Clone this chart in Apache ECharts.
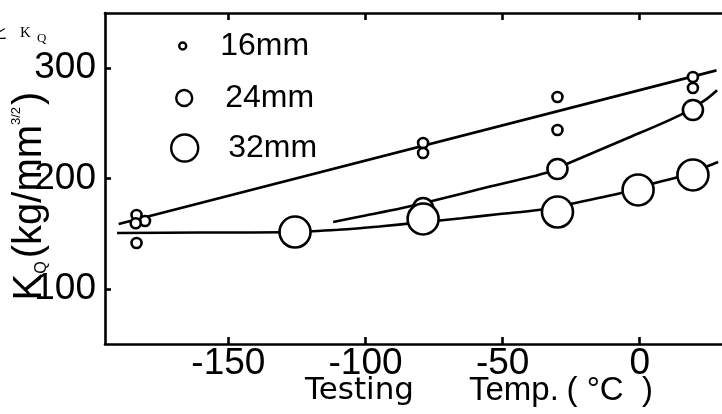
<!DOCTYPE html>
<html>
<head>
<meta charset="utf-8">
<script src="https://cdn.jsdelivr.net/npm/echarts@6/dist/echarts.min.js"></script>
<style>
html,body{margin:0;padding:0;background:#fff;}
#chart{width:722px;height:414px;}
</style>
</head>
<body>
<div id="chart"></div>
<script>
// ---- data ----
const xTicks = [-150, -100, -50, 0];
const yTicks = [100, 200, 300];

const temp16 = [-183.5, -180.4, -183.8, -183.5, -79, -79, -30, -30, 19.4, 19.4];
const kq16   = [166.9, 161.5, 159.5, 141.5, 232.2, 223.1, 273.9, 244.0, 292.0, 282.0];

const temp24 = [-79, -30, 19.4];
const kq24   = [173.3, 208.6, 262.1];

const temp32 = [-125.7, -79, -30, -0.6, 19.4];
const kq32   = [151.5, 163.3, 169.6, 189.6, 203.2];

const fit16T = [-190, 28];
const fit16K = [158.8, 298];

const fit24T = [-111.8, -100, -87, -75, -55, -34, -26, -5, 14.7, 23.8, 28.2];
const fit24K = [160.6, 166.5, 173, 180, 192.5, 205.3, 213.8, 236, 257.5, 271, 280];

const fit32T = [-190.6, -160, -125.7, -110, -95, -79, -65, -51, -37, -25, -6.5, 5.6, 14, 25.6, 28.6];
const fit32K = [150.6, 151, 151.5, 153.5, 156.5, 160.5, 164, 167.8, 171.4, 177, 187, 196, 201.4, 212, 215];

const seriesNames = ['16mm', '24mm', '32mm'];

// ---- build ----
const pair = (xs, ys) => xs.map((x, i) => [x, ys[i]]);
const FONT = '"Liberation Sans", Arial, sans-serif';

const chart = echarts.init(document.getElementById('chart'), null, {renderer: 'canvas'});

const lineStyle = {color: '#000', width: 2.6, opacity: 1};
const circleStyle = {color: '#fff', borderColor: '#000', borderWidth: 2.6, opacity: 1};

function fitSeries(name, xs, ys) {
  return {
    name: name, type: 'line', data: pair(xs, ys), smooth: 0.3,
    showSymbol: false, symbol: 'none', lineStyle: lineStyle, z: 2,
    silent: true, emphasis: {disabled: true}
  };
}
function dotSeries(name, xs, ys, size) {
  return {
    name: name, type: 'scatter', data: pair(xs, ys), symbol: 'circle',
    symbolSize: size, itemStyle: circleStyle, z: 5,
    emphasis: {disabled: true}
  };
}

function legendFor(name, left, top, size, pad) {
  return {
    data: [name], left: left, top: top, padding: 0,
    orient: 'vertical', icon: 'circle', itemWidth: size, itemHeight: size,
    itemStyle: {color: '#fff', borderColor: '#000', borderWidth: 2.4, opacity: 1},
    textStyle: {fontSize: 32, fontFamily: FONT, color: '#000', lineHeight: 34, padding: [0, 0, 0, pad]},
    selectedMode: false
  };
}

const axisLine = {show: true, onZero: false, lineStyle: {color: '#000', width: 2.6}};

const option = {
  backgroundColor: '#fff',
  animation: false,
  grid: {left: 105, right: 0, top: 13, bottom: 70, containLabel: false},
  legend: [
    legendFor(seriesNames[0], 178, 29, 7, 29),
    legendFor(seriesNames[1], 175, 81, 16, 28),
    legendFor(seriesNames[2], 170, 131, 27, 25)
  ],
  xAxis: [
    {
      type: 'value', position: 'bottom', min: -195, max: 30,
      axisLine: axisLine,
      axisTick: {show: true, inside: true, length: 7, customValues: xTicks, lineStyle: {color: '#000', width: 2.6}},
      axisLabel: {show: true, customValues: xTicks, fontSize: 37, fontFamily: FONT, color: '#000', margin: 1},
      splitLine: {show: false}
    },
    {
      type: 'value', position: 'top', min: -195, max: 30,
      axisLine: axisLine,
      axisTick: {show: true, inside: true, length: 7, customValues: xTicks, lineStyle: {color: '#000', width: 2.6}},
      axisLabel: {show: false},
      splitLine: {show: false}
    }
  ],
  yAxis: {
    type: 'value', min: 50, max: 350, position: 'left',
    axisLine: axisLine,
    axisTick: {show: true, inside: true, length: 6, customValues: yTicks, lineStyle: {color: '#000', width: 2.6}},
    axisLabel: {show: true, customValues: yTicks, fontSize: 37, fontFamily: FONT, color: '#000', margin: 9},
    splitLine: {show: false}
  },
  series: [
    fitSeries('fit16', fit16T, fit16K),
    fitSeries('fit24', fit24T, fit24K),
    fitSeries('fit32', fit32T, fit32K),
    dotSeries(seriesNames[0], temp16, kq16, 10),
    dotSeries(seriesNames[1], temp24, kq24, 20),
    dotSeries(seriesNames[2], temp32, kq32, 31)
  ],
  graphic: [
    {
      type: 'text', x: 30, y: 196, rotation: Math.PI / 2, z: 10,
      style: {
        text: '{k|K}{q|Q}{p|(kg/mm}{s|3/2}{p|)}',
        align: 'center', verticalAlign: 'middle',
        rich: {
          k: {fontSize: 40, fontFamily: FONT, fill: '#000'},
          q: {fontSize: 16, fontFamily: FONT, fill: '#000', verticalAlign: 'bottom', padding: [14, 3, 0, 0]},
          p: {fontSize: 40, fontFamily: FONT, fill: '#000'},
          s: {fontSize: 13, fontFamily: FONT, fill: '#000', verticalAlign: 'top', padding: [0, 2, 18, 0]}
        }
      }
    },
    {type: 'text', x: 305, y: 391, z: 10,
      style: {text: 'Testing', fontSize: 31, fontFamily: '"DejaVu Sans", sans-serif', fill: '#000', verticalAlign: 'middle'}},
    {type: 'text', x: 469, y: 391, z: 10,
      style: {text: 'Temp.', fontSize: 33, fontFamily: FONT, fill: '#000', verticalAlign: 'middle'}},
    {type: 'text', x: 653, y: 391, z: 10,
      style: {text: '( °C  )', fontSize: 33, fontFamily: FONT, fill: '#000', align: 'right', verticalAlign: 'middle'}},
    {type: 'text', x: -7, y: 32, z: 10,
      style: {text: 'と', fontSize: 15, fontFamily: '"Noto Sans CJK JP", sans-serif', fill: '#000', verticalAlign: 'middle'}},
    {type: 'text', x: 20, y: 33, z: 10,
      style: {text: 'K', fontSize: 15, fontFamily: '"Liberation Serif", serif', fill: '#000', verticalAlign: 'middle'}},
    {type: 'text', x: 37, y: 39, z: 10,
      style: {text: 'Q', fontSize: 13, fontFamily: '"Liberation Serif", serif', fill: '#000', verticalAlign: 'middle'}}
  ]
};

chart.setOption(option);
</script>
</body>
</html>
